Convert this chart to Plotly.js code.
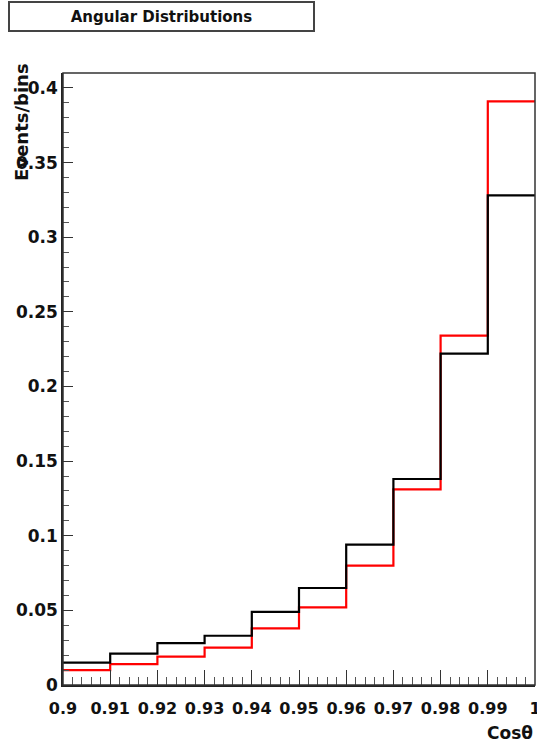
<!DOCTYPE html>
<html>
<head>
<meta charset="utf-8">
<script src="https://cdn.plot.ly/plotly-3.0.1.min.js"></script>
<style>html,body{margin:0;padding:0;background:#fff;}#chart{width:537px;height:751px;}</style>
</head>
<body>
<div id="chart"></div>
<script>
// Bin edges of the histogram (Cos theta)
const binEdges = [0.90, 0.91, 0.92, 0.93, 0.94, 0.95, 0.96, 0.97, 0.98, 0.99, 1.00];
// Red histogram contents per bin
const redValues = [0.010, 0.014, 0.019, 0.025, 0.038, 0.052, 0.080, 0.131, 0.234, 0.391];
// Black histogram contents per bin
const blackValues = [0.015, 0.021, 0.028, 0.033, 0.049, 0.065, 0.094, 0.138, 0.222, 0.328];
// Tick labels
const xTickVals = [0.90, 0.91, 0.92, 0.93, 0.94, 0.95, 0.96, 0.97, 0.98, 0.99, 1.00];
const xTickText = ["0.9", "0.91", "0.92", "0.93", "0.94", "0.95", "0.96", "0.97", "0.98", "0.99", "1"];
const yTickVals = [0, 0.05, 0.10, 0.15, 0.20, 0.25, 0.30, 0.35, 0.40];
const yTickText = ["0", "0.05", "0.1", "0.15", "0.2", "0.25", "0.3", "0.35", "0.4"];

const chartTitle = "Angular Distributions";
const xTitle = "Cosθ";
const yTitle = "Events/bins";

function stepY(vals) { return vals.concat([vals[vals.length - 1]]); }

const FONT = "DejaVu Sans, Liberation Sans, Arial, sans-serif";

const traces = [
  { x: binEdges, y: stepY(redValues), type: "scatter", mode: "lines",
    line: { shape: "hv", color: "#ff0000", width: 2.2 }, hoverinfo: "skip", showlegend: false },
  { x: binEdges, y: stepY(blackValues), type: "scatter", mode: "lines",
    line: { shape: "hv", color: "#000000", width: 2.2 }, hoverinfo: "skip", showlegend: false }
];

const layout = {
  width: 537, height: 751,
  margin: { l: 63, r: 2, t: 73, b: 66, pad: 0 },
  paper_bgcolor: "#ffffff", plot_bgcolor: "#ffffff",
  showlegend: false,
  xaxis: {
    range: [0.9, 1.0], showgrid: false, zeroline: false,
    showline: true, linecolor: "#222", linewidth: 1.5, mirror: false,
    ticks: "inside", ticklen: 15, tickwidth: 1.2, tickcolor: "#333",
    tickmode: "array", tickvals: xTickVals, ticktext: xTickText,
    minor: { tickmode: "linear", dtick: 0.002, ticks: "inside", ticklen: 8, tickwidth: 1, tickcolor: "#555" },
    ticklabelstandoff: 8, ticklabeloverflow: "allow",
    tickfont: { family: FONT, size: 16, weight: "bold", color: "#111" },
    automargin: false
  },
  yaxis: {
    range: [0, 0.41], showgrid: false, zeroline: false,
    showline: true, linecolor: "#222", linewidth: 1.5, mirror: false,
    ticks: "inside", ticklen: 10, tickwidth: 1.2, tickcolor: "#333",
    tickmode: "array", tickvals: yTickVals, ticktext: yTickText,
    minor: { tickmode: "linear", dtick: 0.01, ticks: "inside", ticklen: 6, tickwidth: 1, tickcolor: "#555" },
    ticklabeloverflow: "allow",
    tickfont: { family: FONT, size: 17, weight: "bold", color: "#111" },
    automargin: false
  },
  shapes: [
    { type: "rect", xref: "paper", yref: "paper", x0: 0, x1: 1, y0: 0, y1: 1,
      line: { color: "#333", width: 1.5 }, fillcolor: "rgba(0,0,0,0)", layer: "above" }
  ],
  annotations: [
    { text: chartTitle, xref: "paper", yref: "paper", x: 0.2087, y: 1.093,
      xanchor: "center", yanchor: "middle", showarrow: false,
      width: 301, height: 25, bgcolor: "#ffffff", bordercolor: "#444", borderwidth: 2,
      font: { family: FONT, size: 15, weight: "bold", color: "#111" } },
    { text: xTitle, xref: "paper", yref: "paper", x: 1.0, y: -0.078,
      xanchor: "right", yanchor: "middle", showarrow: false,
      font: { family: FONT, size: 17, weight: "bold", color: "#111" } },
    { text: yTitle, xref: "paper", yref: "paper", x: -0.087, y: 0.92,
      xanchor: "center", yanchor: "middle", showarrow: false, textangle: -90,
      font: { family: FONT, size: 18, weight: "bold", color: "#111" } }
  ]
};

Plotly.newPlot("chart", traces, layout, { displayModeBar: false });
</script>
</body>
</html>
